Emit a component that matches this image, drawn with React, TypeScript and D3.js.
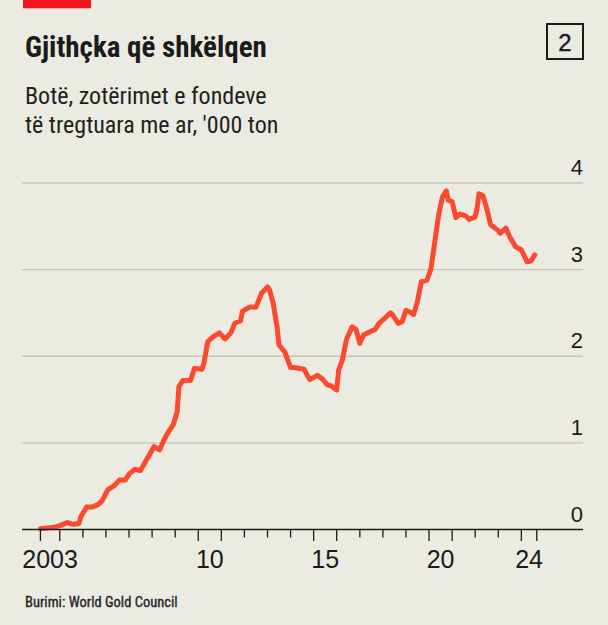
import React from "react";
import * as d3 from "d3";

// ---- Data ----
const dates: string[] = [
  "2003-03","2003-10","2004-01","2004-05","2004-08","2004-11","2004-12",
  "2005-03","2005-06","2005-09","2005-11","2006-02","2006-05","2006-08","2006-11",
  "2007-01","2007-04","2007-07","2007-10","2008-02","2008-05","2008-07","2008-09","2008-12",
  "2009-02","2009-03","2009-05","2009-09","2009-11","2010-03","2010-04","2010-06","2010-09","2010-12",
  "2011-03","2011-06","2011-08","2011-11","2011-12","2012-04","2012-07","2012-10","2013-01","2013-02",
  "2013-04","2013-06","2013-07","2013-10","2014-01","2014-03","2014-08","2014-11",
  "2015-03","2015-06","2015-08","2015-10","2016-01","2016-02","2016-04","2016-06","2016-09","2016-11",
  "2017-01","2017-03","2017-06","2017-09","2017-11","2018-02","2018-05","2018-06","2018-09","2018-11",
  "2019-01","2019-04","2019-05","2019-07","2019-09","2019-12","2020-02","2020-04","2020-06","2020-08",
  "2020-10","2020-11","2021-01","2021-03","2021-05","2021-08","2021-10","2022-01","2022-02","2022-03",
  "2022-05","2022-07","2022-09","2023-01","2023-02","2023-05","2023-07","2023-10","2024-01","2024-04",
  "2024-06","2024-08"
];
const holdings: number[] = [
  0.01,0.025,0.045,0.08,0.06,0.07,0.15,
  0.26,0.26,0.29,0.33,0.46,0.50,0.57,0.57,
  0.64,0.695,0.68,0.80,0.956,0.92,1.025,1.11,1.21,
  1.36,1.65,1.72,1.72,1.86,1.85,1.92,2.17,2.23,2.27,
  2.20,2.27,2.38,2.41,2.52,2.57,2.565,2.73,2.80,2.77,
  2.61,2.34,2.13,2.05,1.87,1.87,1.85,1.73,
  1.78,1.73,1.67,1.66,1.61,1.84,1.96,2.19,2.34,2.31,
  2.15,2.245,2.28,2.31,2.38,2.44,2.50,2.48,2.38,2.40,
  2.53,2.50,2.48,2.63,2.86,2.88,3.01,3.32,3.63,3.84,
  3.91,3.80,3.785,3.60,3.64,3.62,3.58,3.61,3.71,3.875,
  3.855,3.71,3.52,3.45,3.42,3.48,3.38,3.265,3.23,3.09,
  3.10,3.17
];
const yTicks: number[] = [0, 1, 2, 3, 4];
const xLabels: { year: number; label: string }[] = [
  { year: 2003, label: "2003" },
  { year: 2010, label: "10" },
  { year: 2015, label: "15" },
  { year: 2020, label: "20" },
  { year: 2024, label: "24" },
];
const title = "Gjithçka që shkëlqen";
const subtitle = ["Botë, zotërimet e fondeve", "të tregtuara me ar, '000 ton"];
const source = "Burimi: World Gold Council";
const chartNumber = "2";

const W = 608;
const H = 625;
const NARROW = "'Liberation Sans Narrow', 'Roboto Condensed', 'DejaVu Sans Condensed', sans-serif";
const SANS = "'Liberation Sans', Arial, Helvetica, sans-serif";

export default function App() {
  React.useEffect(() => {
    document.body.style.margin = "0";
  }, []);
  const parse = d3.timeParse("%Y-%m");
  const data = dates.map((d, i) => ({ date: parse(d) as Date, value: holdings[i] }));

  const x = d3
    .scaleTime()
    .domain([new Date(2003, 0, 1), new Date(2025, 0, 1)])
    .range([36.7, 36.7 + 22 * 23.08]);
  const y = d3.scaleLinear().domain([0, 4]).range([529.5, 183]);

  const line = d3
    .line<{ date: Date; value: number }>()
    .x((d) => x(d.date))
    .y((d) => y(d.value))
    .curve(d3.curveLinear);

  const startDate = data[0].date;
  const endDate = d3.timeMonth.offset(data[data.length - 1].date, 1);
  const yearTicks = d3.range(2004, 2025).map((yr) => new Date(yr, 0, 1));
  const allTicks = [startDate, ...yearTicks, endDate];
  const majorYears = new Set<number>();
  xLabels.forEach((l) => {
    majorYears.add(l.year);
    majorYears.add(l.year + 1);
  });
  const isMajor = (d: Date) =>
    d === startDate || d === endDate || (d.getMonth() === 0 && majorYears.has(d.getFullYear()));

  const labelPos = (yr: number) => {
    const a = yr === 2003 ? startDate : new Date(yr, 0, 1);
    const b = yr === 2024 ? endDate : new Date(yr + 1, 0, 1);
    return (x(a) + x(b)) / 2;
  };

  const left = 22;
  const right = 583;

  return (
    <svg width={W} height={H} style={{ display: "block", position: "absolute", left: 0, top: 0 }}>
      <rect x={0} y={0} width={W} height={H} fill="#ecebe1" />
      <rect x={23} y={0} width={68} height={8.3} fill="#f0161f" />
      <text x={25} y={57} fontFamily={NARROW} fontWeight="bold" fontSize={29} fill="#1b1b1b">
        {title}
      </text>
      {subtitle.map((s, i) => (
        <text key={i} x={25} y={104 + i * 28.5} fontFamily={NARROW} fontSize={24} fill="#1f1f1f">
          {s}
        </text>
      ))}
      <rect x={547} y={24} width={36} height={35} fill="none" stroke="#1b1b1b" strokeWidth={2} />
      <text
        x={565}
        y={50.5}
        textAnchor="middle"
        fontFamily={SANS}
        fontSize={24}
        fill="#1b1b1b"
        stroke="#1b1b1b"
        strokeWidth={0.4}
      >
        {chartNumber}
      </text>

      {yTicks
        .filter((v) => v > 0)
        .map((v) => (
          <line key={v} x1={left} x2={right} y1={y(v)} y2={y(v)} stroke="#c6c5bc" strokeWidth={1.4} />
        ))}
      {yTicks.map((v) => (
        <text key={"l" + v} x={right} y={y(v) - 8} textAnchor="end" fontFamily={SANS} fontSize={22} fill="#1b1b1b">
          {v}
        </text>
      ))}

      <path
        d={line(data) || ""}
        fill="none"
        stroke="#fa4a30"
        strokeWidth={5}
        strokeLinejoin="round"
        strokeLinecap="round"
      />

      <line x1={left} x2={right} y1={y(0)} y2={y(0)} stroke="#1b1b1b" strokeWidth={1.6} />
      {allTicks.map((d, i) => (
        <line
          key={"t" + i}
          x1={x(d)}
          x2={x(d)}
          y1={y(0)}
          y2={y(0) + (isMajor(d) ? 11.5 : 8)}
          stroke="#1b1b1b"
          strokeWidth={1.3}
        />
      ))}
      {xLabels.map((l) => (
        <text
          key={l.label}
          x={labelPos(l.year)}
          y={568}
          textAnchor="middle"
          fontFamily={SANS}
          fontSize={25}
          fill="#1b1b1b"
        >
          {l.label}
        </text>
      ))}

      <text
        x={25}
        y={607}
        fontFamily={NARROW}
        fontSize={14.5}
        fill="#262626"
        stroke="#262626"
        strokeWidth={0.35}
      >
        {source}
      </text>
    </svg>
  );
}
